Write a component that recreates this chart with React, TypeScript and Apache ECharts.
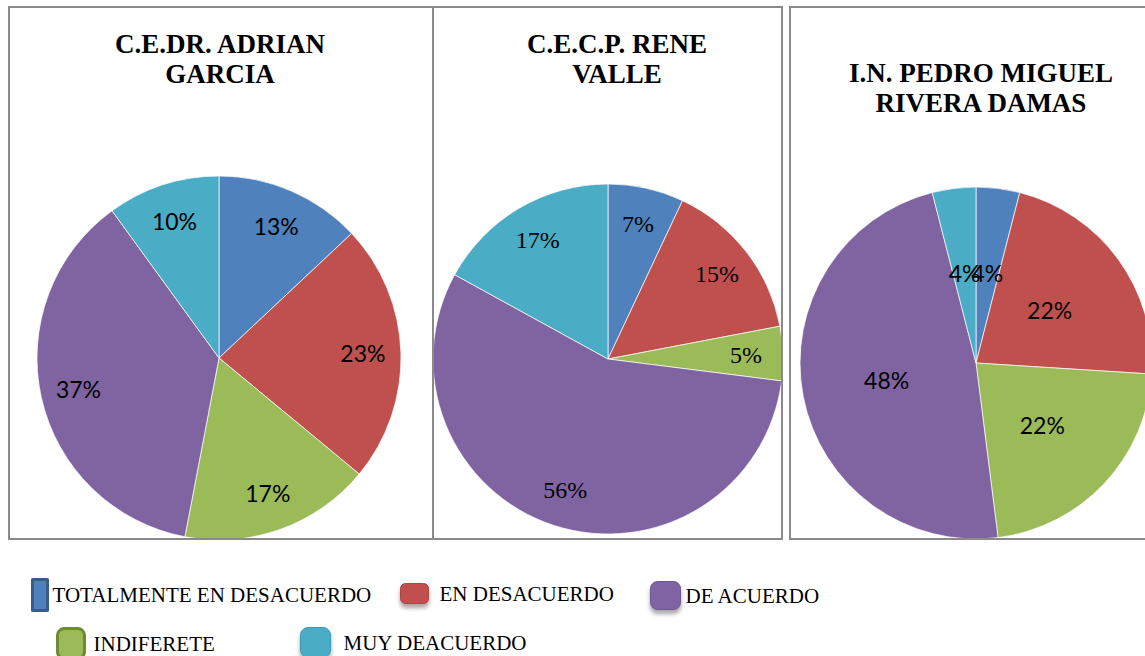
import React, { useEffect, useRef } from "react";
import * as echarts from "echarts";

const categories = [
  "TOTALMENTE EN DESACUERDO",
  "EN DESACUERDO",
  "INDIFERETE",
  "DE ACUERDO",
  "MUY DEACUERDO",
];
const schoolTitles = [
  "C.E.DR. ADRIAN\nGARCIA",
  "C.E.C.P. RENE\nVALLE",
  "I.N. PEDRO MIGUEL\nRIVERA DAMAS",
];
const adrianGarcia = [13, 23, 17, 37, 10];
const reneValle = [7, 15, 5, 56, 17];
const pedroMiguel = [4, 22, 22, 48, 4];

const palette = ["#4f81bd", "#c0504d", "#9bbb59", "#8064a2", "#4bacc6"];

const toData = (vals: number[]) =>
  vals.map((v, i) => ({ name: categories[i], value: v }));

// data with labels shown only for chosen indices
const toDataLabelled = (vals: number[], shown: number[]) =>
  vals.map((v, i) => ({
    name: categories[i],
    value: v,
    label: { show: shown.indexOf(i) >= 0 },
  }));

export default function App() {
  const ref = useRef<HTMLDivElement>(null);
  useEffect(() => {
    document.body.style.margin = "0";
    if (!ref.current) return;
    const chart = echarts.init(ref.current, null, { renderer: "svg" });

    const sansLabel = {
      show: true,
      position: "inside",
      formatter: "{c}%",
      color: "#000",
      fontFamily: "Lato",
      fontSize: 23,
    };
    const serifLabel = {
      show: true,
      position: "inside",
      formatter: "{c}%",
      color: "#000",
      fontFamily: "Liberation Serif",
      fontSize: 24,
    };
    const sliceStyle = { borderColor: "#ffffff", borderWidth: 0.7 };
    const ghostStyle = { color: "rgba(0,0,0,0)", borderWidth: 0 };

    const legendText = {
      fontFamily: "Liberation Serif",
      fontSize: 21,
      color: "#000",
    };
    const shadow = {
      shadowBlur: 4,
      shadowColor: "rgba(0,0,0,0.35)",
      shadowOffsetY: 4,
    };

    const titleStyle = {
      fontFamily: "Liberation Serif",
      fontWeight: "bold",
      fontSize: 27,
      lineHeight: 30,
      color: "#000",
    };

    chart.setOption({
      animation: false,
      backgroundColor: "#ffffff",
      color: palette,
      title: [
        { text: schoolTitles[0], left: 220, top: 29, textAlign: "center", padding: 0, textStyle: titleStyle },
        { text: schoolTitles[1], left: 617, top: 29, textAlign: "center", padding: 0, textStyle: titleStyle },
        { text: schoolTitles[2], left: 981, top: 58, textAlign: "center", padding: 0, textStyle: titleStyle },
      ],
      legend: [
        {
          data: [categories[0]], left: 31, top: 578, padding: 0, selectedMode: false,
          icon: "rect", itemWidth: 15, itemHeight: 31, textStyle: legendText,
          itemStyle: { color: "#4f81bd", borderColor: "#385d8a", borderWidth: 3 },
        },
        {
          data: [categories[1]], left: 400, top: 583, padding: 0, selectedMode: false,
          icon: "roundRect", itemWidth: 28, itemHeight: 20,
          textStyle: { ...legendText, padding: [0, 0, 0, 6] },
          itemStyle: { color: "#c0504d", borderColor: "#b0423f", borderWidth: 1, ...shadow },
        },
        {
          data: [categories[3]], left: 650, top: 581, padding: 0, selectedMode: false,
          icon: "roundRect", itemWidth: 30, itemHeight: 28,
          textStyle: { ...legendText, padding: [0, 0, 3, 0] },
          itemStyle: { color: "#8064a2", borderColor: "#6f5590", borderWidth: 1, ...shadow },
        },
        {
          data: [categories[2]], left: 56, top: 627, padding: 0, selectedMode: false,
          icon: "roundRect", itemWidth: 27, itemHeight: 30,
          textStyle: { ...legendText, padding: [0, 0, 0, 4] },
          itemStyle: { color: "#9bbb59", borderColor: "#6f8a37", borderWidth: 3 },
        },
        {
          data: [categories[4]], left: 300, top: 627, padding: 0, selectedMode: false,
          icon: "roundRect", itemWidth: 30, itemHeight: 30,
          textStyle: { ...legendText, padding: [0, 0, 0, 8] },
          itemStyle: { color: "#4bacc6", borderColor: "#3b9ab3", borderWidth: 1, ...shadow },
        },
      ],
      series: [
        {
          name: "adrian", type: "pie", center: [219, 358], radius: [0, 182],
          startAngle: 90, clockwise: true, data: toData(adrianGarcia),
          label: { show: false }, labelLine: { show: false }, itemStyle: sliceStyle, silent: true,
        },
        {
          name: "adrianLabels", type: "pie", center: [219, 358], radius: [100, 182],
          startAngle: 90, clockwise: true, data: toData(adrianGarcia),
          label: sansLabel, labelLine: { show: false }, itemStyle: ghostStyle, silent: true, z: 3,
        },
        {
          name: "rene", type: "pie", center: [608, 359], radius: [0, 175],
          startAngle: 90, clockwise: true, data: toData(reneValle),
          label: { show: false }, labelLine: { show: false }, itemStyle: sliceStyle, silent: true,
        },
        {
          name: "reneLabels", type: "pie", center: [608, 359], radius: [95, 175],
          startAngle: 90, clockwise: true, data: toData(reneValle),
          label: serifLabel, labelLine: { show: false }, itemStyle: ghostStyle, silent: true, z: 3,
        },
        {
          name: "pedro", type: "pie", center: [976, 363], radius: [0, 176],
          startAngle: 90, clockwise: true, data: toDataLabelled(pedroMiguel, [0, 1, 2, 3]),
          label: sansLabel, labelLine: { show: false }, itemStyle: sliceStyle, silent: true,
          labelLayout: { hideOverlap: false },
        },
        {
          name: "pedroLabels", type: "pie", center: [976, 363], radius: [0, 176],
          startAngle: 90, clockwise: true, data: toDataLabelled(pedroMiguel, [4]),
          label: sansLabel, labelLine: { show: false }, itemStyle: ghostStyle, silent: true, z: 3,
          labelLayout: { hideOverlap: false },
        },
      ],
      graphic: [
        {
          type: "rect", z: 100, silent: true,
          shape: { x: 9, y: 7, width: 424, height: 532 },
          style: { fill: "none", stroke: "#8a8a8a", lineWidth: 2 },
        },
        {
          type: "rect", z: 100, silent: true,
          shape: { x: 433, y: 7, width: 349, height: 532 },
          style: { fill: "none", stroke: "#8a8a8a", lineWidth: 2 },
        },
        {
          type: "rect", z: 100, silent: true,
          shape: { x: 790, y: 7, width: 400, height: 532 },
          style: { fill: "none", stroke: "#8a8a8a", lineWidth: 2 },
        },
      ],
    });
    return () => chart.dispose();
  }, []);
  return <div ref={ref} style={{ width: 1145, height: 656 }} />;
}
